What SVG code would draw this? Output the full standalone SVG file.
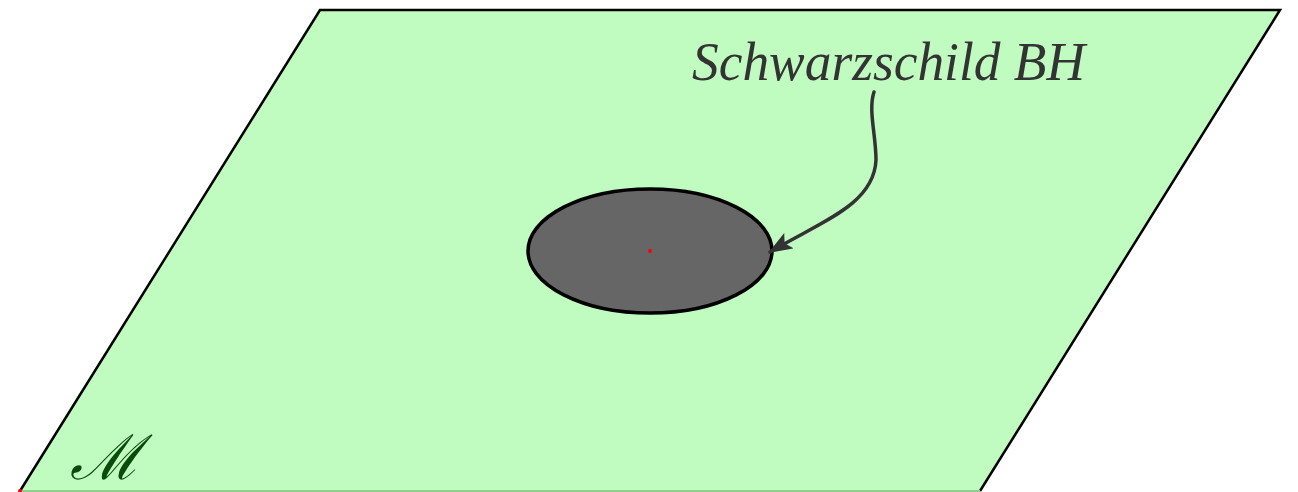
<svg xmlns="http://www.w3.org/2000/svg" width="1298" height="492" viewBox="0 0 1298 492">
<defs>
<marker id="ah2" viewBox="0 0 24 18" refX="22" refY="9" markerWidth="24" markerHeight="18" orient="auto" markerUnits="userSpaceOnUse">
<path d="M0,0 L24,9 L0,18 L5,9 Z" fill="#333"/>
</marker>
</defs>
<rect width="1298" height="492" fill="#fff"/>
<g id="manifold">
<path d="M20,491 L320,10 L1280,10 L980,491 Z" fill="#c0fcc0" stroke="none"/>
<path d="M20,491 L320,10 L1280,10 L980,491" fill="none" stroke="#000" stroke-width="2.5"/>
<line x1="20" y1="491" x2="980" y2="491" stroke="#8fd08f" stroke-width="2"/>
<circle cx="20" cy="491" r="2" fill="red"/>
<text x="70" y="479" font-family="'DejaVu Serif', serif" font-style="italic" font-size="62" fill="#0a4a0a">ℳ</text>
</g>
<g id="bh">
<ellipse cx="650" cy="251" rx="122" ry="62" fill="#666" stroke="#000" stroke-width="3.5"/>
<circle cx="650" cy="251" r="2" fill="red"/>
</g>
<g id="label">
<text x="692" y="80" style="font-family:'Liberation Serif','Times New Roman',serif;font-style:italic;font-weight:normal" font-size="55" fill="#333" textLength="393" lengthAdjust="spacingAndGlyphs">Schwarzschild BH</text>
</g>
<g id="connectors">
<path d="M874,92 C868,110 876,135 876,160 C874,205 820,222 770,252" fill="none" stroke="#333" stroke-width="3.5" stroke-linecap="round" marker-end="url(#ah2)"/>
</g>
</svg>
